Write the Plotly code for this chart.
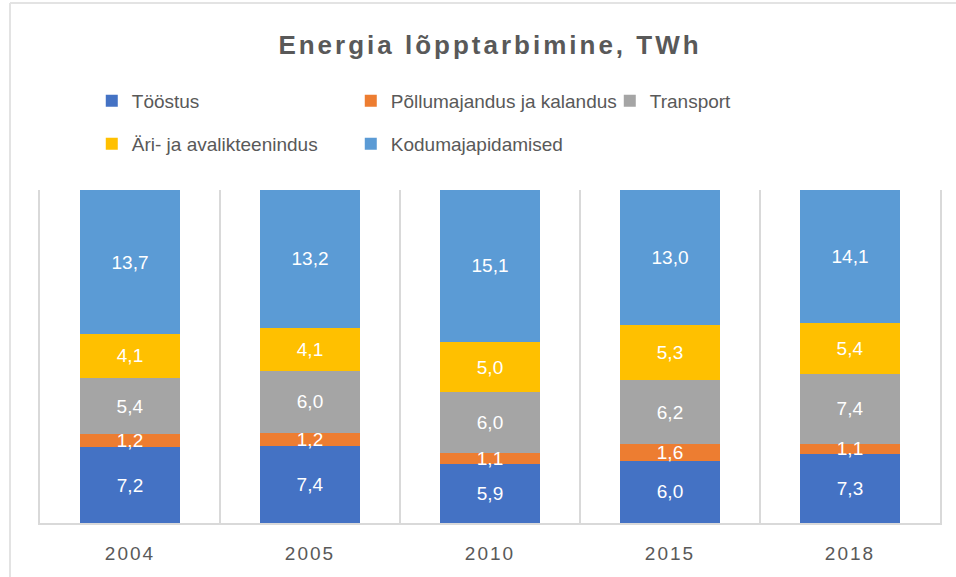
import plotly.graph_objects as go

FONT = "Liberation Sans, Arial, sans-serif"
GREY_TXT = "#595959"
LINE = "#D9D9D9"

years = ["2004", "2005", "2010", "2015", "2018"]
toostus = [7.2, 7.4, 5.9, 6.0, 7.3]
pollumajandus = [1.2, 1.2, 1.1, 1.6, 1.1]
transport = [5.4, 6.0, 6.0, 6.2, 7.4]
ari = [4.1, 4.1, 5.0, 5.3, 5.4]
kodu = [13.7, 13.2, 15.1, 13.0, 14.1]

series = [
    ("Tööstus", toostus, "#4472C4", "legend"),
    ("Põllumajandus ja kalandus", pollumajandus, "#ED7D31", "legend"),
    ("Transport", transport, "#A5A5A5", "legend"),
    ("Äri- ja avalikteenindus", ari, "#FFC000", "legend2"),
    ("Kodumajapidamised", kodu, "#5B9BD5", "legend2"),
]


def fmt(v):
    return f"{v:.1f}".replace(".", ",")


fig = go.Figure()

# coloured stacked bars (100 % stacked via barnorm)
for name, vals, color, leg in series:
    fig.add_trace(go.Bar(
        x=years, y=vals, name=name, marker_color=color,
        marker_line_width=0, legend=leg, hoverinfo="skip",
    ))

# same stack again on an overlay axis, transparent, only to carry the labels
# so they sit on top of neighbouring segments
for name, vals, color, leg in series:
    fig.add_trace(go.Bar(
        x=years, y=vals, text=[fmt(v) for v in vals],
        textposition="inside", insidetextanchor="middle", textangle=0,
        textfont=dict(family=FONT, size=19, color="white"),
        marker_color="rgba(0,0,0,0)", marker_line_width=0,
        showlegend=False, hoverinfo="skip", xaxis="x2", yaxis="y2",
    ))

legend_style = dict(
    orientation="h", xref="container", yref="container",
    x=0.096, xanchor="left", yanchor="middle", traceorder="normal",
    font=dict(family=FONT, size=19, color=GREY_TXT),
    entrywidth=214, bgcolor="rgba(0,0,0,0)",
)

fig.update_layout(
    width=956, height=577,
    barmode="stack", barnorm="percent", bargap=0.44,
    paper_bgcolor="white", plot_bgcolor="white",
    margin=dict(l=40, r=16, t=190, b=54),
    title=dict(
        text="<b>Energia lõpptarbimine, TWh</b>",
        font=dict(family=FONT, size=26, color=GREY_TXT),
        x=0.5, xref="paper", xanchor="center",
        y=1 - 45 / 577, yref="container", yanchor="middle",
    ),
    legend=dict(legend_style, y=1 - 101 / 577),
    legend2=dict(legend_style, y=1 - 144 / 577),
    uniformtext=dict(minsize=19, mode="show"),
    xaxis=dict(
        type="category", tickson="boundaries", showgrid=True,
        gridcolor=LINE, gridwidth=1.5, showline=True, linecolor=LINE,
        linewidth=1.5, ticks="", ticklabelstandoff=12,
        tickfont=dict(family=FONT, size=19, color=GREY_TXT),
    ),
    yaxis=dict(
        range=[0, 100], showticklabels=False, showgrid=False,
        zeroline=False, fixedrange=True,
        showline=True, mirror=True, linecolor=LINE, linewidth=1.5,
    ),
    xaxis2=dict(type="category", overlaying="x", anchor="y2", visible=False),
    yaxis2=dict(range=[0, 100], overlaying="y", anchor="x2", visible=False),
    shapes=[
        # chart frame, left and top edge
        dict(type="line", xref="paper", yref="paper",
             x0=-30 / 900, x1=-30 / 900, y0=-54 / 333, y1=520 / 333,
             line=dict(color="#E3E3E3", width=2)),
        dict(type="line", xref="paper", yref="paper",
             x0=-30 / 900, x1=916 / 900, y0=520 / 333, y1=520 / 333,
             line=dict(color="#E3E3E3", width=2)),
    ],
)

spacing = """
document.body.style.margin = '0';
var gd = document.getElementById('{plot_id}');
function spaceOut() {
  gd.querySelectorAll('.gtitle').forEach(function (t) { t.style.letterSpacing = '3px'; });
  gd.querySelectorAll('.xtick text').forEach(function (t) { t.style.letterSpacing = '2px'; });
}
spaceOut();
gd.on('plotly_afterplot', spaceOut);
"""

fig.write_html("out.html", post_script=spacing, config={"displayModeBar": False})
